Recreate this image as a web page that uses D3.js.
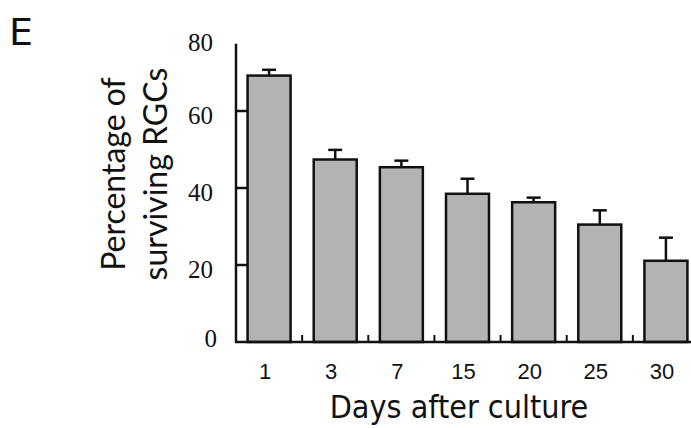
<!DOCTYPE html>
<html>
<head>
<meta charset="utf-8">
<script src="https://cdn.jsdelivr.net/npm/d3@7"></script>
<style>
  body { margin: 0; background: #fff; }
</style>
</head>
<body>
<div id="chart"></div>
<script>
const days = ["1", "3", "7", "15", "20", "25", "30"];
const survival = [69.2, 47.4, 45.4, 38.5, 36.3, 30.5, 21.1];
const errors = [1.5, 2.5, 1.7, 3.9, 1.2, 3.7, 6.0];
const yTicks = [0, 20, 40, 60, 80];

const data = days.map((d, i) => ({ day: d, value: survival[i], err: errors[i] }));

const width = 691;
const height = 428;
const margin = { top: 34, right: -8, bottom: 86, left: 236 };

const svg = d3.select("#chart").append("svg")
    .attr("width", width)
    .attr("height", height);

const x = d3.scaleBand()
    .domain(days)
    .range([margin.left, width - margin.right])
    .paddingInner(0.35)
    .paddingOuter(0.175);

const y = d3.scaleLinear()
    .domain([0, 80])
    .range([height - margin.bottom, margin.top]);

const barFill = "#b3b3b3";
const ink = "#111";

// bars
svg.append("g")
    .selectAll("rect")
    .data(data)
    .enter()
    .append("rect")
    .attr("x", d => x(d.day))
    .attr("y", d => y(d.value))
    .attr("width", x.bandwidth())
    .attr("height", d => y(0) - y(d.value))
    .attr("fill", barFill)
    .attr("stroke", ink)
    .attr("stroke-width", 2.5);

// error bars (upper only)
const errG = svg.append("g")
    .attr("stroke", ink)
    .attr("stroke-width", 2.5);

errG.selectAll("line.stem")
    .data(data)
    .enter()
    .append("line")
    .attr("class", "stem")
    .attr("x1", d => x(d.day) + x.bandwidth() / 2)
    .attr("x2", d => x(d.day) + x.bandwidth() / 2)
    .attr("y1", d => y(d.value))
    .attr("y2", d => y(d.value + d.err));

errG.selectAll("line.cap")
    .data(data)
    .enter()
    .append("line")
    .attr("class", "cap")
    .attr("x1", d => x(d.day) + x.bandwidth() / 2 - 7)
    .attr("x2", d => x(d.day) + x.bandwidth() / 2 + 7)
    .attr("y1", d => y(d.value + d.err))
    .attr("y2", d => y(d.value + d.err));

// y axis: line, inward ticks, serif labels
svg.append("line")
    .attr("x1", margin.left)
    .attr("x2", margin.left)
    .attr("y1", y(0))
    .attr("y2", y(77.5))
    .attr("stroke", ink)
    .attr("stroke-width", 2.5);

svg.append("g")
    .selectAll("line")
    .data(yTicks.filter(t => t > 0 && t < 80))
    .enter()
    .append("line")
    .attr("x1", margin.left)
    .attr("x2", margin.left + 12)
    .attr("y1", d => y(d))
    .attr("y2", d => y(d))
    .attr("stroke", ink)
    .attr("stroke-width", 2.5);

svg.append("g")
    .selectAll("text")
    .data(yTicks)
    .enter()
    .append("text")
    .attr("x", d => d === 0 ? margin.left - 19 : margin.left - 23)
    .attr("y", d => d === 0 ? y(d) - 4 : y(d) + (d === 80 ? 8 : 4))
    .attr("text-anchor", "end")
    .attr("dominant-baseline", "central")
    .style("font-family", "'Liberation Serif', 'Times New Roman', serif")
    .style("font-size", "25px")
    .attr("fill", ink)
    .text(d => d);

// x axis line and small ticks between bars
svg.append("line")
    .attr("x1", margin.left - 1)
    .attr("x2", width)
    .attr("y1", y(0))
    .attr("y2", y(0))
    .attr("stroke", ink)
    .attr("stroke-width", 2.5);

const gap = x.step() * x.paddingInner();
svg.append("g")
    .selectAll("line")
    .data(days.slice(1))
    .enter()
    .append("line")
    .attr("x1", d => x(d) - gap / 2)
    .attr("x2", d => x(d) - gap / 2)
    .attr("y1", y(0))
    .attr("y2", y(0) - 7)
    .attr("stroke", ink)
    .attr("stroke-width", 2);

svg.append("g")
    .selectAll("text")
    .data(days)
    .enter()
    .append("text")
    .attr("x", d => x(d) + x.bandwidth() / 2 - 4)
    .attr("y", y(0) + 37)
    .attr("text-anchor", "middle")
    .style("font-family", "'Liberation Sans', Arial, sans-serif")
    .style("font-size", "22px")
    .attr("fill", ink)
    .text(d => d);

// axis titles
svg.append("text")
    .attr("x", 459)
    .attr("y", 418)
    .attr("text-anchor", "middle")
    .style("font-family", "'DejaVu Sans Condensed', 'DejaVu Sans', Verdana, sans-serif")
    .style("font-size", "32px")
    .attr("fill", ink)
    .text("Days after culture");

const yTitle = svg.append("text")
    .attr("transform", "translate(125,174) rotate(-90)")
    .attr("text-anchor", "middle")
    .style("font-family", "Lato, 'Open Sans', sans-serif")
    .style("font-size", "32px")
    .attr("fill", ink);
yTitle.append("tspan").attr("x", 0).attr("dy", 0).text("Percentage of");
yTitle.append("tspan").attr("x", 0).attr("dy", 42).text("surviving RGCs");

// panel letter
svg.append("text")
    .attr("x", 9)
    .attr("y", 45)
    .style("font-family", "'DejaVu Sans', Verdana, sans-serif")
    .style("font-size", "38px")
    .attr("fill", ink)
    .text("E");
</script>
</body>
</html>
